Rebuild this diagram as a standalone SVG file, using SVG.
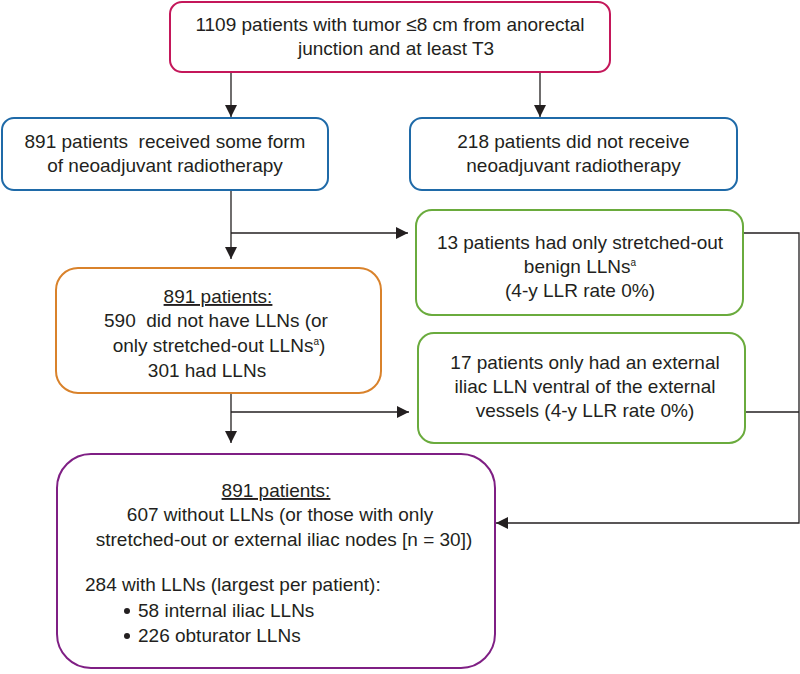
<svg xmlns="http://www.w3.org/2000/svg" width="800" height="674" viewBox="0 0 800 674">
<defs>
<marker id="arr" markerUnits="userSpaceOnUse" markerWidth="12" markerHeight="12" viewBox="0 0 12 12" refX="12" refY="6" orient="auto">
<path d="M0,0 L12,6 L0,12 z" fill="#231f20"/>
</marker>
<style>
.box{fill:#fff;stroke-width:2}
.t{font-family:"Liberation Sans",Arial,sans-serif;font-size:19px;fill:#231f20}
.c{text-anchor:middle}
.sup{font-size:10px}
.ln{fill:none;stroke:#231f20;stroke-width:1.3}
</style>
</defs>
<rect width="800" height="674" fill="#fff"/>
<g id="connectors">
<path class="ln" d="M231,72 V117" marker-end="url(#arr)"/>
<path class="ln" d="M540,72 V117" marker-end="url(#arr)"/>
<path class="ln" d="M231,190 V259" marker-end="url(#arr)"/>
<path class="ln" d="M231,233 H408" marker-end="url(#arr)"/>
<path class="ln" d="M231,393 V443" marker-end="url(#arr)"/>
<path class="ln" d="M231,412 H409" marker-end="url(#arr)"/>
<path class="ln" d="M743,233 H799 V523 H496" marker-end="url(#arr)"/>
<path class="ln" d="M745,412 H799"/>
</g>
<g id="n1">
<rect class="box" x="170" y="2" width="440" height="70" rx="12" stroke="#c4175a"/>
<text class="t c" x="390" y="31">1109 patients with tumor ≤8 cm from anorectal</text>
<text class="t c" x="396" y="55">junction and at least T3</text>
</g>
<g id="n2">
<rect class="box" x="2" y="118" width="326" height="72" rx="12" stroke="#1f6aa8"/>
<text class="t c" x="165" y="148" xml:space="preserve">891 patients  received some form</text>
<text class="t c" x="165" y="172">of neoadjuvant radiotherapy</text>
</g>
<g id="n3">
<rect class="box" x="410" y="118" width="327" height="72" rx="12" stroke="#1f6aa8"/>
<text class="t c" x="573.5" y="148">218 patients did not receive</text>
<text class="t c" x="573.5" y="172">neoadjuvant radiotherapy</text>
</g>
<g id="n4">
<rect class="box" x="56" y="268" width="325" height="125" rx="22" stroke="#d9822b"/>
<text class="t c" x="218" y="303" text-decoration="underline">891 patients:</text>
<text class="t c" x="216" y="327" xml:space="preserve">590  did not have LLNs (or</text>
<text class="t c" x="219" y="352">only stretched-out LLNs<tspan class="sup" dy="-7">a</tspan><tspan dy="7">)</tspan></text>
<text class="t c" x="207" y="377">301 had LLNs</text>
</g>
<g id="n5">
<rect class="box" x="416" y="210" width="327" height="105" rx="16" stroke="#6aab3d"/>
<text class="t c" x="580" y="249">13 patients had only stretched-out</text>
<text class="t c" x="580" y="273">benign LLNs<tspan class="sup" dy="-7">a</tspan></text>
<text class="t c" x="580" y="297">(4-y LLR rate 0%)</text>
</g>
<g id="n6">
<rect class="box" x="418" y="333" width="327" height="110" rx="16" stroke="#6aab3d"/>
<text class="t c" x="585" y="369">17 patients only had an external</text>
<text class="t c" x="585" y="393">iliac LLN ventral of the external</text>
<text class="t c" x="585" y="417">vessels (4-y LLR rate 0%)</text>
</g>
<g id="n7">
<rect class="box" x="57" y="454" width="438" height="214" rx="34" stroke="#7f1f84"/>
<text class="t c" x="276" y="497" text-decoration="underline">891 patients:</text>
<text class="t c" x="280" y="521">607 without LLNs (or those with only</text>
<text class="t c" x="284" y="546">stretched-out or external iliac nodes [n = 30])</text>
<text class="t" x="85" y="591">284 with LLNs (largest per patient):</text>
<circle cx="127" cy="611" r="3" fill="#231f20"/>
<text class="t" x="138" y="617">58 internal iliac LLNs</text>
<circle cx="127" cy="636" r="3" fill="#231f20"/>
<text class="t" x="138" y="642">226 obturator LLNs</text>
</g>
</svg>
